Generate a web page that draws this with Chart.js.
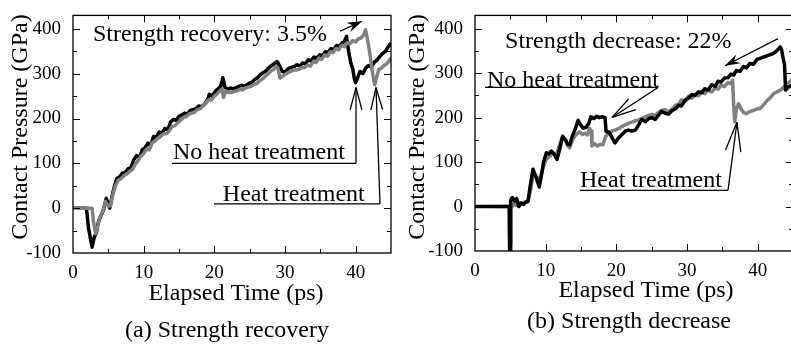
<!DOCTYPE html>
<html>
<head>
<meta charset="utf-8">
<title>Contact pressure vs elapsed time</title>
<script src="https://cdn.jsdelivr.net/npm/chart.js@4.4.0/dist/chart.umd.min.js"></script>
<style>
  html, body { margin: 0; padding: 0; background: #fff; overflow: hidden; }
  #wrap { position: relative; width: 791px; height: 345px; overflow: hidden; }
  canvas { position: absolute; top: 0; }
  #chartA { left: 0; }
  #chartB { left: 395px; }
</style>
</head>
<body>
<div id="wrap">
  <canvas id="chartA" width="395" height="345"></canvas>
  <canvas id="chartB" width="400" height="345"></canvas>
</div>
<script>
// tick labels (same for both panels)
const xTicks = [0, 10, 20, 30, 40];
const yTicks = [-100, 0, 100, 200, 300, 400];

// (a) Strength recovery - no heat treatment (black)
const recoveryNoHeatTime = [0, 1.9, 2.2, 2.5, 2.7, 3.0, 3.3, 3.6, 4.0, 4.3,
  4.7, 5.0, 5.2, 5.5, 5.8, 6.2, 6.6, 7.0, 7.4, 7.8,
  8.2, 8.6, 9.0, 9.4, 9.8, 10.2, 10.6, 11.0, 11.4, 11.8,
  12.2, 12.6, 13.0, 13.4, 13.8, 14.2, 14.6, 15.0, 15.4, 15.8,
  16.2, 16.6, 17.0, 17.4, 17.8, 18.2, 18.6, 19.0, 19.3, 19.7,
  20.1, 20.5, 20.9, 21.2, 21.5, 21.9, 22.3, 22.7, 23.1, 23.5,
  23.9, 24.3, 24.7, 25.0, 25.4, 25.8, 26.2, 26.5, 26.9, 27.3,
  27.6, 27.9, 28.3, 28.6, 28.9, 29.2, 29.6, 30.0, 30.5, 30.9,
  31.3, 31.7, 32.1, 32.5, 32.9, 33.3, 33.7, 34.1, 34.5, 34.9,
  35.3, 35.7, 36.1, 36.5, 36.9, 37.3, 37.7, 38.1, 38.4, 38.7,
  39.0, 39.3, 39.6, 39.8, 40.0, 40.3, 40.6, 41.0, 41.4, 41.8,
  42.2, 42.6, 43.0, 43.4, 43.8, 44.2, 44.6, 45];
const recoveryNoHeatPressure = [0, 0, -45, -70, -87, -65, -55, -30, -15, -5,
  22, 8, 0, 25, 45, 66, 70, 78, 80, 88,
  90, 108, 117, 112, 130, 135, 145, 140, 160, 158,
  170, 168, 178, 174, 192, 198, 196, 205, 208, 212,
  210, 218, 220, 222, 228, 226, 232, 240, 254, 250,
  260, 266, 272, 291, 270, 265, 268, 266, 269, 272,
  274, 272, 276, 279, 282, 288, 292, 298, 302, 306,
  312, 316, 320, 324, 327, 318, 305, 303, 312, 314,
  316, 320, 317, 324, 322, 331, 328, 337, 334, 342,
  340, 349, 347, 356, 354, 363, 361, 369, 372, 383,
  350, 325, 310, 290, 280, 292, 305, 300, 312, 318,
  315, 325, 330, 338, 345, 350, 360, 368];

// (a) Strength recovery - heat treatment (grey)
const recoveryHeatTime = [0, 2.7, 2.9, 3.2, 3.5, 3.8, 4.2, 4.6, 5.0, 5.3,
  5.6, 6.0, 6.4, 6.8, 7.2, 7.6, 8.0, 8.4, 8.8, 9.2,
  9.6, 10.0, 10.4, 10.8, 11.2, 11.6, 12.0, 12.4, 12.8, 13.2,
  13.6, 14.0, 14.4, 14.8, 15.2, 15.6, 16.0, 16.4, 16.8, 17.2,
  17.6, 18.0, 18.4, 18.8, 19.2, 19.6, 20.0, 20.4, 20.8, 21.1,
  21.3, 21.6, 22.0, 22.4, 22.8, 23.2, 23.6, 24.0, 24.4, 24.8,
  25.2, 25.6, 26.0, 26.4, 26.8, 27.2, 27.6, 28.0, 28.4, 28.8,
  29.0, 29.3, 29.6, 30.0, 30.4, 30.8, 31.2, 31.6, 32.0, 32.4,
  32.8, 33.2, 33.6, 34.0, 34.4, 34.8, 35.2, 35.6, 36.0, 36.4,
  36.8, 37.2, 37.6, 38.0, 38.4, 38.8, 39.2, 39.6, 40.0, 40.4,
  40.8, 41.1, 41.4, 41.8, 42.1, 42.4, 42.7, 43.0, 43.3, 43.6,
  44.0, 44.4, 44.8, 45];
const recoveryHeatPressure = [0, 0, -30, -57, -40, -20, -8, 15, 5, 5,
  28, 50, 62, 66, 72, 76, 82, 86, 98, 106,
  116, 122, 132, 130, 146, 150, 156, 160, 166, 166,
  172, 182, 184, 190, 196, 202, 204, 210, 212, 214,
  220, 222, 228, 234, 242, 242, 250, 255, 262, 266,
  247, 262, 258, 258, 260, 262, 265, 264, 268, 270,
  272, 276, 278, 284, 288, 294, 300, 306, 310, 316,
  312, 290, 294, 298, 302, 305, 308, 308, 310, 314,
  314, 319, 317, 327, 325, 335, 332, 342, 339, 349,
  347, 356, 353, 363, 360, 369, 367, 374, 371, 378,
  380, 386, 398, 365, 335, 300, 275, 295, 310, 312,
  318, 322, 330, 335];

// (b) Strength decrease - no heat treatment (black)
const decreaseNoHeatTime = [0, 4.85, 4.9, 4.98, 5.05, 5.3, 5.6, 5.9, 6.2, 6.5,
  6.9, 7.2, 7.5, 7.8, 8.2, 8.5, 8.8, 9.1, 9.4, 9.7,
  10.1, 10.4, 10.8, 11.2, 11.6, 12.0, 12.4, 12.8, 13.1, 13.4,
  13.8, 14.2, 14.6, 14.9, 15.3, 15.7, 16.1, 16.4, 16.8, 17.2,
  17.6, 18.0, 18.4, 18.55, 18.9, 19.3, 19.8, 20.3, 20.8, 21.3,
  21.7, 22.2, 22.7, 23.2, 23.6, 24.1, 24.6, 25.0, 25.5, 26.0,
  26.4, 26.9, 27.4, 27.9, 28.4, 28.8, 29.2, 29.7, 30.2, 30.7,
  31.1, 31.6, 32.1, 32.5, 33.0, 33.5, 34.0, 34.4, 34.8, 35.3,
  35.8, 36.2, 36.6, 37.0, 37.5, 38.0, 38.4, 38.9, 39.4, 39.9,
  40.3, 40.8, 41.3, 41.8, 42.2, 42.7, 43.2, 43.4, 43.6, 43.8,
  43.95, 44.3, 44.7, 45];
const decreaseNoHeatPressure = [0, 0, -100, -100, 15, 20, 12, 18, 0, 8,
  5, 10, 12, 45, 84, 72, 58, 44, 70, 100,
  121, 118, 125, 118, 106, 130, 158, 150, 140, 139,
  160, 175, 194, 185, 176, 178, 187, 202, 198, 203,
  200, 202, 200, 169, 168, 158, 143, 154, 162, 170,
  172, 170, 172, 185, 196, 191, 198, 200, 196, 206,
  214, 210, 208, 216, 220, 228, 226, 238, 244, 252,
  250, 258, 256, 265, 262, 274, 270, 282, 280, 289,
  290, 298, 296, 306, 304, 315, 312, 322, 320, 331,
  333, 336, 339, 342, 344, 350, 359, 352, 333, 320,
  262, 268, 272, 275];

// (b) Strength decrease - heat treatment (grey)
const decreaseHeatTime = [2.8, 4.85, 4.9, 4.98, 5.05, 5.4, 5.8, 6.2, 6.6, 7.0,
  7.5, 7.9, 8.2, 8.6, 9.1, 9.5, 9.8, 10.1, 10.5, 10.9,
  11.2, 11.6, 12.0, 12.4, 12.8, 13.1, 13.4, 13.8, 14.2, 14.8,
  15.2, 15.6, 15.9, 16.2, 16.45, 16.55, 16.9, 17.3, 17.7, 18.1,
  18.5, 18.9, 19.4, 19.8, 20.3, 20.8, 21.3, 21.7, 22.2, 22.7,
  23.2, 23.6, 24.1, 24.6, 25.0, 25.5, 26.0, 26.4, 26.9, 27.4,
  27.9, 28.4, 28.8, 29.2, 29.7, 30.2, 30.7, 31.1, 31.6, 32.1,
  32.5, 33.0, 33.5, 34.0, 34.4, 34.8, 35.3, 35.8, 36.2, 36.45,
  36.6, 36.75, 37.0, 37.3, 37.7, 38.0, 38.4, 38.9, 39.4, 39.9,
  40.3, 40.8, 41.3, 41.8, 42.2, 42.7, 43.2, 43.7, 44.1, 44.6,
  45];
const decreaseHeatPressure = [0, 0, -85, -85, -5, 5, 3, 8, 6, 10,
  11, 40, 73, 70, 59, 80, 95, 106, 112, 118,
  118, 121, 140, 158, 150, 138, 132, 150, 160, 168,
  162, 165, 161, 176, 170, 136, 142, 136, 140, 139,
  158, 165, 170, 172, 175, 180, 184, 187, 190, 193,
  195, 198, 202, 205, 207, 205, 212, 216, 218, 213,
  220, 228, 230, 240, 238, 248, 244, 252, 249, 257,
  254, 262, 258, 267, 264, 273, 270, 279, 276, 284,
  230, 191, 220, 231, 218, 212, 209, 214, 216, 220,
  220, 228, 238, 245, 253, 258, 262, 268, 275, 282,
  288];

const FONT = '"Liberation Serif", "Times New Roman", serif';
const BLACK = "#000000";
const GREY = "#808080";

function toPoints(times, values) {
  return times.map((t, i) => ({ x: t, y: values[i] }));
}

function line(ctx, x1, y1, x2, y2) {
  ctx.beginPath();
  ctx.moveTo(x1, y1);
  ctx.lineTo(x2, y2);
  ctx.stroke();
}

// box + inward ticks on all four sides
const frameTicks = {
  id: "frameTicks",
  afterDatasetsDraw(chart) {
    const { ctx, chartArea: a, scales } = chart;
    const x = scales.x, y = scales.y;
    ctx.save();
    ctx.strokeStyle = BLACK;
    ctx.lineWidth = 1.3;
    ctx.strokeRect(a.left, a.top, a.right - a.left, a.bottom - a.top);
    ctx.lineWidth = 1;
    for (let t = 5; t < 45; t += 5) {
      const px = Math.round(x.getPixelForValue(t)) + 0.5;
      const len = t % 10 === 0 ? 7 : 4;
      line(ctx, px, a.bottom, px, a.bottom - len);
      line(ctx, px, a.top, px, a.top + len);
    }
    for (let v = -50; v <= 400; v += 50) {
      const py = Math.round(y.getPixelForValue(v)) + 0.5;
      const len = v % 100 === 0 ? 7 : 4;
      line(ctx, a.left, py, a.left + len, py);
      line(ctx, a.right, py, a.right - len, py);
    }
    ctx.restore();
  },
};

// annotation texts, pointer lines and titles
const callouts = {
  id: "callouts",
  afterDraw(chart, args, opts) {
    const { ctx, scales } = chart;
    const px = (t) => scales.x.getPixelForValue(t);
    const py = (v) => scales.y.getPixelForValue(v);
    ctx.save();
    ctx.fillStyle = BLACK;
    ctx.strokeStyle = BLACK;
    ctx.font = "24px " + FONT;
    ctx.textBaseline = "alphabetic";

    // plain labels
    ctx.textAlign = "left";
    opts.labels.forEach((l) => ctx.fillText(l.text, px(l.t), py(l.v)));

    // underlined labels with open arrow pointing at a curve
    ctx.lineWidth = 1.3;
    opts.pointers.forEach((p) => {
      ctx.fillText(p.text, px(p.t), py(p.v));
      const ux = px(p.lineEnd), uy = py(p.lineV);
      const tx = px(p.tipT), ty = py(p.tipV);
      line(ctx, px(p.lineStart), uy, ux, uy);
      line(ctx, ux, uy, tx, ty);
      const ang = Math.atan2(uy - ty, ux - tx);
      [-0.26, 0.26].forEach((d) => {
        line(ctx, tx, ty, tx + p.arm * Math.cos(ang + d), ty + p.arm * Math.sin(ang + d));
      });
    });

    // arrows with a filled head
    opts.arrows.forEach((r) => {
      const x1 = px(r.fromT), y1 = py(r.fromV);
      const x2 = px(r.toT), y2 = py(r.toV);
      const ang = Math.atan2(y2 - y1, x2 - x1);
      line(ctx, x1, y1, x2, y2);
      const back = (len, off) => [
        x2 - len * Math.cos(ang) + off * Math.sin(ang),
        y2 - len * Math.sin(ang) - off * Math.cos(ang),
      ];
      const p1 = back(15, 5), p2 = back(10, 0), p3 = back(15, -5);
      ctx.beginPath();
      ctx.moveTo(x2, y2);
      ctx.lineTo(p1[0], p1[1]);
      ctx.lineTo(p2[0], p2[1]);
      ctx.lineTo(p3[0], p3[1]);
      ctx.closePath();
      ctx.fill();
    });

    // axis titles and caption
    ctx.textAlign = "center";
    ctx.fillText("Elapsed Time (ps)", opts.xTitle[0], opts.xTitle[1]);
    ctx.fillText(opts.caption, opts.captionAt[0], opts.captionAt[1]);
    ctx.translate(opts.yTitle[0], opts.yTitle[1]);
    ctx.rotate(-Math.PI / 2);
    ctx.fillText("Contact Pressure (GPa)", 0, 0);
    ctx.restore();
  },
};

function buildChart(canvasId, cfg) {
  return new Chart(document.getElementById(canvasId), {
    type: "line",
    data: { datasets: cfg.datasets },
    options: {
      responsive: false,
      animation: false,
      layout: { padding: { top: cfg.top, right: cfg.right, left: 0, bottom: 0 } },
      elements: {
        point: { radius: 0 },
        line: { tension: 0, borderWidth: 3.5, borderJoinStyle: "round" },
      },
      plugins: {
        legend: { display: false },
        tooltip: { enabled: false },
        callouts: cfg.callouts,
      },
      scales: {
        x: {
          type: "linear",
          min: 0,
          max: 45,
          grid: { display: false },
          border: { display: false },
          ticks: { color: BLACK, font: { family: FONT, size: 19 }, padding: 1, maxRotation: 0 },
          afterBuildTicks: (s) => { s.ticks = xTicks.map((v) => ({ value: v })); },
          afterFit: (s) => { s.height = cfg.bottomBand; },
        },
        y: {
          min: -100,
          max: 430,
          grid: { display: false },
          border: { display: false },
          ticks: { color: BLACK, font: { family: FONT, size: 19 }, padding: 4 },
          afterBuildTicks: (s) => { s.ticks = yTicks.map((v) => ({ value: v })); },
          afterFit: (s) => { s.width = cfg.leftBand; },
        },
      },
    },
    plugins: [frameTicks, callouts],
  });
}

// (a) grey under black
buildChart("chartA", {
  top: 9, right: 4, leftBand: 73, bottomBand: 92,
  datasets: [
    { data: toPoints(recoveryHeatTime, recoveryHeatPressure), borderColor: GREY },
    { data: toPoints(recoveryNoHeatTime, recoveryNoHeatPressure), borderColor: BLACK },
  ],
  callouts: {
    labels: [{ text: "Strength recovery: 3.5%", t: 2.83, v: 374 }],
    arrows: [{ fromT: 37.8, fromV: 395, toT: 40.9, toV: 417 }],
    pointers: [
      { text: "No heat treatment", t: 14.15, v: 108.6, lineStart: 14.0, lineEnd: 40.05, lineV: 100, tipT: 40.05, tipV: 269, arm: 23 },
      { text: "Heat treatment", t: 21.2, v: 15.2, lineStart: 19.95, lineEnd: 43.44, lineV: 9.8, tipT: 42.88, tipV: 269, arm: 23 },
    ],
    xTitle: [236, 300],
    captionAt: [227, 337],
    caption: "(a) Strength recovery",
    yTitle: [27, 127],
  },
});

// (b) black under grey
buildChart("chartB", {
  top: 8, right: 2, leftBand: 80, bottomBand: 94,
  datasets: [
    { data: toPoints(decreaseNoHeatTime, decreaseNoHeatPressure), borderColor: BLACK },
    { data: toPoints(decreaseHeatTime, decreaseHeatPressure), borderColor: GREY },
  ],
  callouts: {
    labels: [{ text: "Strength decrease: 22%", t: 4.25, v: 356.6 }],
    arrows: [{ fromT: 42.88, fromV: 377.8, toT: 35.38, toV: 316.7 }],
    pointers: [
      { text: "No heat treatment", t: 1.70, v: 269.4, lineStart: 1.42, lineEnd: 25.9, lineV: 267.9, tipT: 19.39, tipV: 200.4, arm: 25 },
      { text: "Heat treatment", t: 14.86, v: 44.1, lineStart: 14.86, lineEnd: 35.8, lineV: 36.4, tipT: 37.07, tipV: 189.5, arm: 30 },
    ],
    xTitle: [251, 297],
    captionAt: [234, 328],
    caption: "(b) Strength decrease",
    yTitle: [28.5, 127],
  },
});
</script>
</body>
</html>
